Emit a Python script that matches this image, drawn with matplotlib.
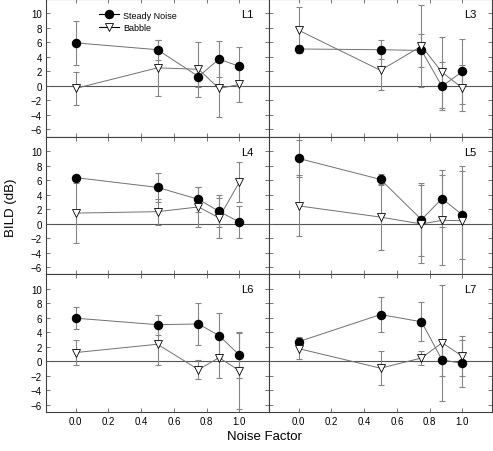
import numpy as np
import matplotlib
matplotlib.use('Agg')
import matplotlib.pyplot as plt
from matplotlib.lines import Line2D

plt.rcParams['font.family'] = ['Liberation Sans', 'DejaVu Sans']

noise_factor = [0.0, 0.5, 0.75, 0.875, 1.0]
panels = ['L1', 'L3', 'L4', 'L5', 'L6', 'L7']

# steady noise means / error, babble means / error, per panel
steady = {
    'L1': [5.95, 5.0, 1.3, 3.7, 2.7],
    'L3': [5.1, 5.0, 4.9, -0.05, 2.0],
    'L4': [6.35, 5.0, 3.35, 1.7, 0.2],
    'L5': [9.0, 6.1, 0.55, 3.45, 1.2],
    'L6': [5.95, 5.05, 5.15, 3.55, 0.85],
    'L7': [2.7, 6.45, 5.45, 0.2, -0.3],
}
steady_err = {
    'L1': [3.0, 1.4, 1.5, 2.5, 2.7],
    'L3': [0.55, 1.3, 2.3, 3.3, 4.5],
    'L4': [0.4, 2.0, 1.75, 2.2, 2.2],
    'L5': [2.5, 0.8, 5.0, 3.9, 6.1],
    'L6': [1.5, 1.4, 2.85, 3.1, 3.1],
    'L7': [0.7, 2.4, 2.7, 2.2, 3.3],
}
babble = {
    'L1': [-0.35, 2.5, 2.3, -0.35, 0.2],
    'L3': [7.7, 2.15, 5.5, 1.9, -0.3],
    'L4': [1.45, 1.65, 2.3, 0.8, 5.75],
    'L5': [2.45, 0.9, -0.05, 0.45, 0.4],
    'L6': [1.2, 2.35, -1.15, 0.5, -1.3],
    'L7': [1.75, -0.95, 0.45, 2.55, 0.7],
}
babble_err = {
    'L1': [2.3, 3.85, 3.8, 3.9, 2.4],
    'L3': [3.2, 2.7, 5.7, 4.9, 3.2],
    'L4': [4.1, 1.8, 2.7, 2.8, 2.8],
    'L5': [4.2, 4.5, 5.4, 6.2, 7.6],
    'L6': [1.75, 2.9, 1.35, 2.85, 5.3],
    'L7': [1.47, 2.3, 1.0, 8.0, 2.75],
}

fig = plt.figure(figsize=(4.93, 4.52), dpi=100)
left, mid, right = 46 / 493, 269 / 493, 492 / 493
bottom, top = 1 - 413 / 452, 1.0
h = (top - bottom) / 3

for i, name in enumerate(panels):
    row, col = divmod(i, 2)
    x0 = left if col == 0 else mid
    w = (mid - left) if col == 0 else (right - mid)
    y0 = top - (row + 1) * h
    ax = fig.add_axes([x0, y0, w, h])

    ax.axhline(0, color='#555555', lw=0.8, zorder=1)
    ax.errorbar(noise_factor, steady[name], yerr=steady_err[name], fmt='none',
                ecolor='#858585', elinewidth=0.8, capsize=2, capthick=0.8, zorder=2)
    ax.errorbar(noise_factor, babble[name], yerr=babble_err[name], fmt='none',
                ecolor='#858585', elinewidth=0.8, capsize=2, capthick=0.8, zorder=2)
    ax.plot(noise_factor, steady[name], '-', color='#707070', lw=0.7, zorder=3)
    ax.plot(noise_factor, babble[name], '-', color='#707070', lw=0.7, zorder=3)
    ax.plot(noise_factor, steady[name], 'o', color='black', ms=5.8, zorder=4)
    ax.plot(noise_factor, babble[name], 'v', mfc='white', mec='black', mew=0.6,
            ms=6.2, zorder=5)

    ax.set_xlim(-0.18, 1.18)
    ax.set_ylim(-7, 12)
    ax.set_xticks([0.0, 0.2, 0.4, 0.6, 0.8, 1.0])
    ax.set_yticks(range(-6, 11, 2))
    ax.tick_params(direction='in', length=3, width=0.6, color='#606060',
                   top=True, right=True, labelsize=7, pad=3)
    if row < 2:
        ax.set_xticklabels([])
    else:
        ax.set_xticklabels(['0.0', '0.2', '0.4', '0.6', '0.8', '1.0'])
    if col == 1:
        ax.set_yticklabels([])
    for s in ax.spines.values():
        s.set_linewidth(0.8)
        s.set_color('#404040')
    ax.text(0.93, 0.89, name, transform=ax.transAxes, ha='right', va='center',
            fontsize=8)

    if i == 0:
        hs = [Line2D([], [], color='black', lw=0.8, marker='o', ms=5.8, mfc='black'),
              Line2D([], [], color='black', lw=0.8, marker='v', ms=6.2, mfc='white',
                     mec='black', mew=0.6)]
        ax.legend(hs, ['Steady Noise', 'Babble'], loc='upper left',
                  bbox_to_anchor=(0.2, 0.975), frameon=False, fontsize=6.5,
                  handlelength=2.2, handletextpad=0.5, labelspacing=0.35)

fig.text(0.537, 0.033, 'Noise Factor', ha='center', va='center', fontsize=9.5)
fig.text(0.022, 0.54, 'BILD (dB)', ha='center', va='center', rotation=90,
         fontsize=9.5)

fig.savefig('out.png', dpi=100)
